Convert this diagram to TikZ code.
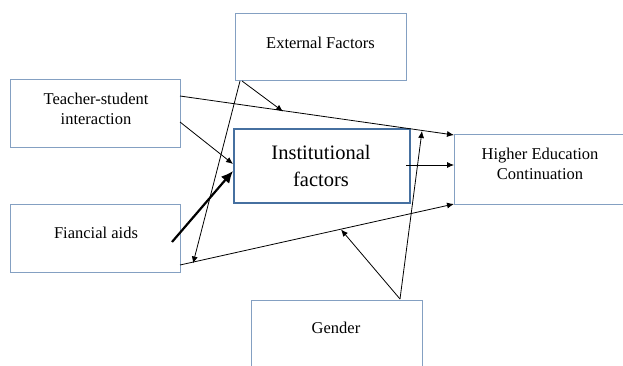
\documentclass[tikz,border=0pt]{standalone}
\usepackage{fontspec}
\setmainfont{Liberation Serif}
\usetikzlibrary{arrows.meta}
\definecolor{boxline}{RGB}{132,160,194}
\definecolor{instline}{RGB}{70,112,160}
\begin{document}
\begin{tikzpicture}[x=1pt,y=-1pt,
  box/.style={draw=boxline,line width=1pt,fill=white},
  lbl/.style={font=\fontsize{16.5}{20.5}\selectfont,align=center,inner sep=0pt},
  biglbl/.style={font=\fontsize{20.5}{27}\selectfont,align=center,inner sep=0pt},
  conn/.style={line width=0.8pt,-{Latex[length=7pt,width=6pt]}},
  thickconn/.style={line width=2.2pt,-{Latex[length=12pt,width=11pt]}}]
\useasboundingbox (0,0) rectangle (623,366);
\begin{scope}
\clip (0,0) rectangle (623,366);
% boxes
\draw[box] (235,14) rectangle (406,81);
\node (ext) at (320.5,47.5) {};
\draw[box] (10,80) rectangle (180,148);
\node (tsi) at (95,114) {};
\draw[box] (10,204) rectangle (180,272);
\node (fin) at (95,238) {};
\draw[box] (454,135) rectangle (640,204);
\node (hec) at (540,169.5) {};
\draw[box] (251,300) rectangle (422,380);
\node (gen) at (336,333) {};
\draw[draw=instline,line width=2pt,fill=white] (234,129) rectangle (410,203);
\node (inst) at (322,166) {};
\end{scope}
% labels
\node[lbl] (extT) at (320.5,43) {External Factors};
\node[lbl] (tsiT) at (96,109) {Teacher-student\\interaction};
\node[lbl] (finT) at (96,233) {Fiancial aids};
\node[lbl] (hecT) at (540,164) {Higher Education\\Continuation};
\node[lbl] (genT) at (336,328) {Gender};
\node[biglbl] (instT) at (321,166) {Institutional\\factors};
% connector end points
\coordinate (e1) at (242,81);
\coordinate (e2) at (240,81);
\coordinate (m1) at (283,111.5);
\coordinate (m2) at (193,263.5);
\coordinate (t1) at (180,96);
\coordinate (t2) at (180,122);
\coordinate (h1) at (454,135);
\coordinate (h2) at (454,165);
\coordinate (h3) at (454,204);
\coordinate (i1) at (233,164);
\coordinate (i2) at (233,171);
\coordinate (i3) at (406,165);
\coordinate (f1) at (180,265);
\coordinate (f2) at (172,242);
\coordinate (g1) at (400,299);
\coordinate (g2) at (422,131);
\coordinate (g3) at (341,229.5);
% connectors
\draw[conn] (t1) -- (h1);
\draw[conn] (t2) -- (i1);
\draw[conn] (e1) -- (m1);
\draw[conn] (e2) -- (m2);
\draw[conn] (f1) -- (h3);
\draw[conn] (i3) -- (h2);
\draw[conn] (g1) -- (g2);
\draw[conn] (g1) -- (g3);
\draw[thickconn] (f2) -- (i2);
\end{tikzpicture}
\end{document}
